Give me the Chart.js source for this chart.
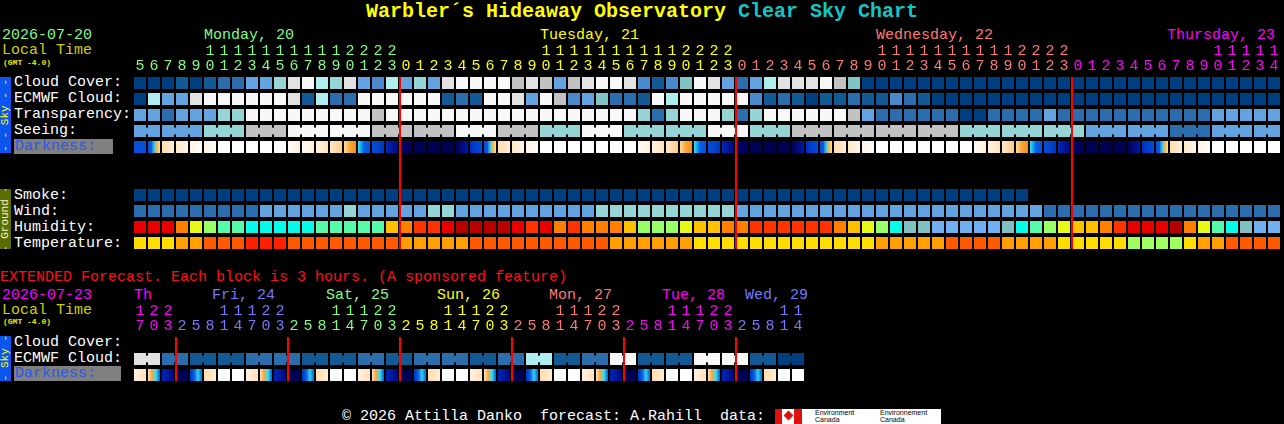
<!DOCTYPE html>
<html lang="en">
<head>
<meta charset="utf-8">
<title>Warbler's Hideaway Observatory Clear Sky Chart</title>
<script src="https://cdn.jsdelivr.net/npm/chart.js@4"></script>
<style>
  html,body{margin:0;padding:0;background:#000;}
  #wrap{position:relative;width:1284px;height:424px;overflow:hidden;background:#000;
        font-family:'Liberation Mono','DejaVu Sans Mono',monospace;font-size:15px;}
  .t{position:absolute;white-space:pre;line-height:15px;}
  .lbl{color:#fff;left:14px;}
  .dark{position:absolute;left:14px;height:15px;background:#808080;color:#2a58e8;line-height:15px;padding-left:1px;box-sizing:border-box;}
  .bar{position:absolute;left:0;width:11px;display:flex;align-items:center;justify-content:center;overflow:hidden;}
  .bar span{writing-mode:vertical-rl;transform:rotate(180deg);font-size:11px;line-height:11px;white-space:pre;}
  canvas{position:absolute;left:0;}
</style>
</head>
<body>
<div id="wrap">
  <div class="t" style="left:0;width:1284px;top:2px;text-align:center;font-size:20px;line-height:20px;font-weight:bold;"><span style="color:#ffff00">Warbler´s Hideaway Observatory</span> <span style="color:#10c8c8">Clear Sky Chart</span></div>

  <div class="t" style="left:2px;top:28px;color:#80ff80">2026-07-20</div>
  <div class="t" style="left:204px;top:28px;color:#80ff80">Monday, 20</div>
  <div class="t" style="left:540px;top:28px;color:#ffff00">Tuesday, 21</div>
  <div class="t" style="left:876px;top:28px;color:#ff7878">Wednesday, 22</div>
  <div class="t" style="left:1167px;top:28px;color:#ff00ff">Thursday, 23</div>
  <div class="t" style="left:2px;top:43px;color:#d0d000">Local Time</div>
  <div class="t" style="left:3px;top:59px;color:#e8e800;font-size:8px;line-height:8px;font-weight:bold">(GMT -4.0)</div>

  <div class="bar" style="top:77px;height:76px;background:#0a54f0"><span style="color:#ffff00">- - Sky - -</span></div>
  <div class="t lbl" style="top:75px">Cloud Cover:</div>
  <div class="t lbl" style="top:91px">ECMWF Cloud:</div>
  <div class="t lbl" style="top:107px">Transparency:</div>
  <div class="t lbl" style="top:123px">Seeing:</div>
  <div class="dark" style="top:139px;width:99px">Darkness:</div>

  <div class="bar" style="top:189px;height:60px;background:#5a6e00"><span style="color:#f0f0d0">- Ground -</span></div>
  <div class="t lbl" style="top:188px">Smoke:</div>
  <div class="t lbl" style="top:204px">Wind:</div>
  <div class="t lbl" style="top:220px">Humidity:</div>
  <div class="t lbl" style="top:236px">Temperature:</div>

  <div class="t" style="left:0;top:270px;color:#ff1010">EXTENDED Forecast. Each block is 3 hours. (A sponsored feature)</div>
  <div class="t" style="left:2px;top:288px;color:#ff00ff">2026-07-23</div>
  <div class="t" style="left:134px;top:288px;color:#ff00ff">Th</div>
  <div class="t" style="left:212px;top:288px;color:#7878ff">Fri, 24</div>
  <div class="t" style="left:326px;top:288px;color:#80ff80">Sat, 25</div>
  <div class="t" style="left:437px;top:288px;color:#ffff00">Sun, 26</div>
  <div class="t" style="left:549px;top:288px;color:#ff7878">Mon, 27</div>
  <div class="t" style="left:662px;top:288px;color:#ff00ff">Tue, 28</div>
  <div class="t" style="left:745px;top:288px;color:#7878ff">Wed, 29</div>
  <div class="t" style="left:2px;top:303px;color:#d0d000">Local Time</div>
  <div class="t" style="left:3px;top:318px;color:#e8e800;font-size:8px;line-height:8px;font-weight:bold">(GMT -4.0)</div>

  <div class="bar" style="top:336px;height:45px;background:#0a54f0"><span style="color:#ffff00">- Sky -</span></div>
  <div class="t lbl" style="top:335px">Cloud Cover:</div>
  <div class="t lbl" style="top:351px">ECMWF Cloud:</div>
  <div class="dark" style="top:366px;width:107px">Darkness:</div>

  <div class="t" style="left:342px;top:409px;color:#fff">© 2026 Attilla Danko  forecast: A.Rahill  data:</div>
  <div style="position:absolute;left:775px;top:409px;width:27px;height:15px;background:linear-gradient(90deg,#e01010 0 7px,#fff 7px 19px,#e01010 19px)"></div>
  <div style="position:absolute;left:785px;top:412px;width:7px;height:7px;background:#e01010;transform:rotate(45deg)"></div>
  <div style="position:absolute;left:802px;top:409px;width:139px;height:15px;background:#fff"></div>
  <div class="t" style="left:815px;top:409px;color:#000;font-family:'Liberation Sans',sans-serif;font-size:7px;line-height:7px">Environment
Canada</div>
  <div class="t" style="left:880px;top:409px;color:#000;font-family:'Liberation Sans',sans-serif;font-size:7px;line-height:7px">Environnement
Canada</div>

  <canvas id="main" width="1284" height="251" style="top:0"></canvas>
  <canvas id="ext" width="1284" height="123" style="top:260px"></canvas>
</div>

<script>
// ---------------------- Data ----------------------
// hour of each 1-hour block, Mon 20 05:00 -> Thu 23 14:00
const MAIN_HOURS = [5,6,7,8,9,10,11,12,13,14,15,16,17,18,19,20,21,22,23,
  0,1,2,3,4,5,6,7,8,9,10,11,12,13,14,15,16,17,18,19,20,21,22,23,
  0,1,2,3,4,5,6,7,8,9,10,11,12,13,14,15,16,17,18,19,20,21,22,23,
  0,1,2,3,4,5,6,7,8,9,10,11,12,13,14];
const MAIN_DAY_STARTS = [0, 19, 43, 67];
const MAIN_DAY_COLORS = ['#80ff80', '#ffff00', '#ff7878', '#ff00ff'];

// cloud-like rows: 0 = clear/best (dark blue) ... 10 = overcast/too cloudy (white)
const cloudCover = [0,0,0,1,0,1,2,2,4,4, 6,9,10,7,6,9,4,3,7,4, 6,4,9,10,10,10,10,8,9,8,
  4,8,9,10,10,9,3,1,3,5, 10,9,4,2,4,7,9,9,9,10, 8,5,0,0,0,0,0,0,0,0,
  0,0,0,0,0,0,0,0,0,0, 0,0,0,0,0,0,0,0,0,0, 0,0];
const ecmwfCloud = [0,7,4,4,9,10,10,10,10,10, 10,9,1,7,2,2,10,10,10,10, 10,10,1,2,1,10,10,9,4,10,
  8,3,4,5,2,2,1,10,7,10, 10,10,10,10,3,1,2,1,0,1, 1,2,1,1,3,2,1,0,0,0,
  0,0,0,0,0,0,0,0,0,0, 0,0,0,0,0,0,0,0,0,0, 0,0];
const transparency = [4,4,2,4,4,4,6,6,10,10, 10,10,10,10,10,10,10,8,10,10, 10,10,10,10,10,10,10,10,10,10,
  10,10,10,10,10,10,6,2,6,10, 10,10,6,2,6,10,10,10,10,10, 10,8,4,2,2,2,2,2,2,0,
  0,2,2,2,2,4,2,2,2,2, 2,2,2,2,2,2,2,4,4,4, 4,4];
const seeing = [4,4,4,4,4,6,6,6,8,8, 8,10,10,10,10,10,10,8,8,8, 8,8,8,10,10,10,8,8,8,6,
  6,6,10,10,10,6,6,6,6,6, 6,10,10,10,6,6,6,8,8,8, 8,8,8,8,8,8,8,8,8,6,
  6,6,6,6,6,6,6,6,4,4, 4,4,4,4,2,2,2,4,4,4, 4,4];
// darkness: sky colour codes (N night ... W daylight, D dawn, E/C dusk)
const darkness = ['B','D','p1','p2','p3','p3','W','W','W','W', 'W','q3','q3','q2','q1','E','C','b2','n2','n3',
  'N','N','N','n1','b1','D','p1','p2','p3','W', 'W','W','W','W','W','W','q3','q2','q1','E',
  'C','b2','n2','n3','N','N','N','n1','b1','D', 'p1','p2','p3','W','W','W','W','W','W','W',
  'q3','q2','q1','E','C','b2','n2','n3','N','N', 'N','n1','b1','D','p1','p2','p3','W','W','W', 'W','W'];
const smoke = [0,0,0,0,0,0,0,0,0,0, 0,0,0,0,0,0,0,0,0,0, 0,0,0,0,0,0,0,0,0,0,
  0,0,0,0,0,0,0,0,0,0, 0,0,0,0,0,0,0,0,0,0, 0,0,0,0,0,0,0,0,0,0,
  0,0,0,0,null,null,null,null,null,null, null,null,null,null,null,null,null,null,null,null, null,null];
const wind = [1,1,1,1,1,1,1,1,1,2, 2,2,2,2,2,3,2,2,2,2, 2,3,3,2,2,2,2,2,2,2,
  2,2,2,3,3,3,3,3,3,3, 3,3,3,2,2,2,2,2,2,2, 2,2,2,2,2,2,2,2,2,2,
  2,2,2,2,2,1,1,1,1,1, 1,1,1,1,1,1,1,1,1,1, 1,1];
// humidity class 0 (dry, blue) ... 10 (saturated, dark red)
const humidity = [9,9,9,7,5,4,3,3,2,2, 2,2,2,3,3,3,3,3,6,7, 8,8,9,10,10,10,10,9,8,9,
  7,8,7,7,7,6,4,4,4,5, 6,6,7,7,8,8,8,8,8,8, 7,6,5,4,2,1,1,0,0,0,
  0,0,1,2,3,4,5,6,6,7, 8,9,9,9,10,7,5,3,2,1, 0,0];
// temperature class 0 (cool, green) ... 4 (hot, red)
const temperature = [1,1,1,2,2,3,3,3,4,4, 4,3,3,3,3,3,3,3,3,2, 2,2,2,2,3,3,3,3,3,3,
  3,3,3,3,2,2,2,2,2,2, 1,1,1,1,1,1,1,1,1,1, 1,1,1,2,2,2,2,2,3,3,
  3,3,2,2,2,2,1,1,1,1, 1,0,0,0,0,1,2,2,3,3, 3,3];

// extended forecast, 3-hour blocks Thu 23 17:00 -> Wed 29 14:00
const EXT_HOURS = [17,20,23, 2,5,8,11,14,17,20,23, 2,5,8,11,14,17,20,23, 2,5,8,11,14,17,20,23,
  2,5,8,11,14,17,20,23, 2,5,8,11,14,17,20,23, 2,5,8,11,14];
const EXT_DAY_STARTS = [0, 3, 11, 19, 27, 35, 43];
const EXT_DAY_COLORS = ['#ff00ff', '#7878ff', '#80ff80', '#ffff00', '#ff7878', '#ff00ff', '#7878ff'];
const extEcmwf = [9,9,2,2,1,1,1,1,2,2, 2,2,1,1,1,1,2,2,1,1, 2,2,2,2,1,1,2,2,7,7,
  1,1,2,2,10,10,1,1,1,1, 10,10,10,10,1,1,0,0];
const extDarkness = ['q2','T','n2','M','A','p1','W','W', 'q2','T','n2','M','A','p1','W','W',
  'q2','T','n2','M','A','p1','W','W', 'q2','T','n2','M','A','p1','W','W',
  'q2','T','n2','M','A','p1','W','W', 'q2','T','n2','M','A','p1','W','W'];

// ---------------------- Palettes ----------------------
const CLOUD_COLORS = ['#003f7f','#135a95','#2c6ead','#4a8acb','#63a3e0','#80c4c4','#96d5d5','#aeeeee','#c2c2c2','#e2e2e2','#f8f8f8'];
const WIND_COLORS = ['#003f7f','#2c6ead','#63a3e0','#96d5d5'];
const HUM_COLORS = ['#70b0f0','#80c0c0','#08fae8','#55faaa','#99ff66','#e8f818','#ffc000','#ff8000','#ff3300','#e80000','#b80000'];
const TEMP_COLORS = ['#a0ff60','#ffdd00','#ffa000','#ff5a00','#ff2000'];
const DARK_STOPS = {
  N: ['#000050'], n3: ['#000068','#000058'], n1: ['#000058','#0018a0'], b1: ['#0030c0','#0050d8'],
  B: ['#0850d8'], D: ['#0a50d8','#0a50d8','#28c8f0','#f8b848','#ffd8a4'],
  p1: ['#ffdcaa','#ffeed6'], p2: ['#ffe8cc','#fff5e8'], p3: ['#fff4e6','#fffcf8'], W: ['#ffffff'],
  q3: ['#fffbf6','#fff0e0'], q2: ['#fff2e2','#ffe2bc'], q1: ['#ffe8c8','#ffcc88'],
  E: ['#ffd898','#f8a838','#f09020'], C: ['#30e8f8','#0a60e0','#0850d8'],
  b2: ['#0850d8','#0038c0'], n2: ['#0028b0','#000888'],
  T: ['#ffe0b0','#f8a838','#30e0f8','#0858d8'], M: ['#000070','#000050','#000060'],
  A: ['#0038c8','#0858d8','#30d0f0','#0a60e0'],
};

// ---------------------- Chart helpers ----------------------
const CELL_FRAC = 12 / 14;  // block width inside a 14px hour slot
const HALF = 0.375;         // half block height in row units (12px of 16)
const BRIDGE = 0.19;        // half height of the joint between blocks of one forecast step
const FONT = "'Liberation Mono','DejaVu Sans Mono',monospace";

const dayOf = (starts, i) => starts.filter(s => s <= i).length - 1;
const hourLabel = h => [h >= 10 ? String(Math.floor(h / 10)) : '', String(h % 10)];

function rowDataset(row, values, palette) {
  return {
    data: values.map(v => (v === null ? null : [row - HALF, row + HALF])),
    backgroundColor: values.map(v => (v === null ? 'transparent' : palette[v])),
    grouped: false, barPercentage: 1, categoryPercentage: CELL_FRAC,
    borderWidth: 0, borderSkipped: false,
  };
}

// narrow joints between neighbouring blocks that belong to the same forecast step
function bridgeDataset(row, values, palette, joined) {
  const pts = [];
  values.forEach((v, i) => {
    if (i + 1 < values.length && v !== null && values[i + 1] === v && joined(i)) {
      pts.push({ x: i + 0.5, y: [row - BRIDGE, row + BRIDGE], c: palette[v] });
    }
  });
  return {
    xAxisID: 'xb', data: pts, backgroundColor: pts.map(p => p.c),
    grouped: false, barThickness: 6, barPercentage: 1, categoryPercentage: 1,
    borderWidth: 0, borderSkipped: false,
  };
}

function darkDataset(row, codes) {
  return {
    data: codes.map(() => [row - HALF, row + HALF]),
    backgroundColor: (ctx) => {
      const stops = DARK_STOPS[codes[ctx.dataIndex]];
      if (!stops) return 'transparent';
      if (stops.length === 1) return stops[0];
      const x = ctx.chart.scales.x;
      if (!x || !x.ticks || !x.ticks.length) return stops[0];
      const half = (x.width / x.ticks.length) * CELL_FRAC / 2;
      const cx = x.getPixelForValue(ctx.dataIndex);
      if (!isFinite(cx) || !isFinite(half) || half <= 0) return stops[0];
      const g = ctx.chart.ctx.createLinearGradient(cx - half, 0, cx + half, 0);
      stops.forEach((c, k) => g.addColorStop(k / (stops.length - 1), c));
      return g;
    },
    grouped: false, barPercentage: 1, categoryPercentage: CELL_FRAC,
    borderWidth: 0, borderSkipped: false,
  };
}

// red midnight separators
const dayLines = {
  id: 'dayLines',
  afterDatasetsDraw(chart, args, opts) {
    const { ctx, chartArea: { top, bottom }, scales: { x } } = chart;
    const w = x.width / x.ticks.length;
    ctx.save();
    ctx.fillStyle = '#ff0000';
    opts.starts.forEach(i => {
      if (!i) return;
      const px = Math.round(x.getPixelForValue(i) - w / 2);
      ctx.fillRect(px, top + 2, 2, bottom - top - 4);
    });
    ctx.restore();
  },
};

function gridChart(id, hours, starts, colors, datasets, nRows, padRight) {
  return new Chart(document.getElementById(id), {
    type: 'bar',
    data: { labels: hours.map(hourLabel), datasets },
    options: {
      responsive: false, animation: false, devicePixelRatio: 1,
      layout: { padding: { left: 133, right: padRight, top: 0, bottom: 0 } },
      scales: {
        x: {
          type: 'category', position: 'top', offset: true,
          grid: { display: false, drawTicks: false }, border: { display: false },
          ticks: {
            autoSkip: false, maxRotation: 0, minRotation: 0, padding: 1,
            font: { family: FONT, size: 15, lineHeight: 1 },
            color: (ctx) => colors[dayOf(starts, ctx.index)],
          },
          afterFit: (s) => { s.height = 75; },
        },
        xb: { type: 'linear', axis: 'x', min: -0.5, max: hours.length - 0.5, offset: false, display: false },
        y: { type: 'linear', min: -0.5, max: nRows - 0.5, reverse: true, display: false },
      },
      plugins: { legend: { display: false }, tooltip: { enabled: false }, dayLines: { starts } },
    },
    plugins: [dayLines],
  });
}

// rows: 0-4 sky, 7-10 ground
gridChart('main', MAIN_HOURS, MAIN_DAY_STARTS, MAIN_DAY_COLORS, [
  rowDataset(0, cloudCover, CLOUD_COLORS),
  rowDataset(1, ecmwfCloud, CLOUD_COLORS),
  rowDataset(2, transparency, CLOUD_COLORS),
  rowDataset(3, seeing, CLOUD_COLORS),
  bridgeDataset(3, seeing, CLOUD_COLORS, i => MAIN_HOURS[i + 1] % 3 !== 1),
  darkDataset(4, darkness),
  rowDataset(7, smoke, CLOUD_COLORS),
  rowDataset(8, wind, WIND_COLORS),
  rowDataset(9, humidity, HUM_COLORS),
  rowDataset(10, temperature, TEMP_COLORS),
], 11, 3);

gridChart('ext', EXT_HOURS, EXT_DAY_STARTS, EXT_DAY_COLORS, [
  rowDataset(1, extEcmwf, CLOUD_COLORS),
  bridgeDataset(1, extEcmwf, CLOUD_COLORS, i => i % 2 === 0),
  darkDataset(2, extDarkness),
], 3, 479);
</script>
</body>
</html>
